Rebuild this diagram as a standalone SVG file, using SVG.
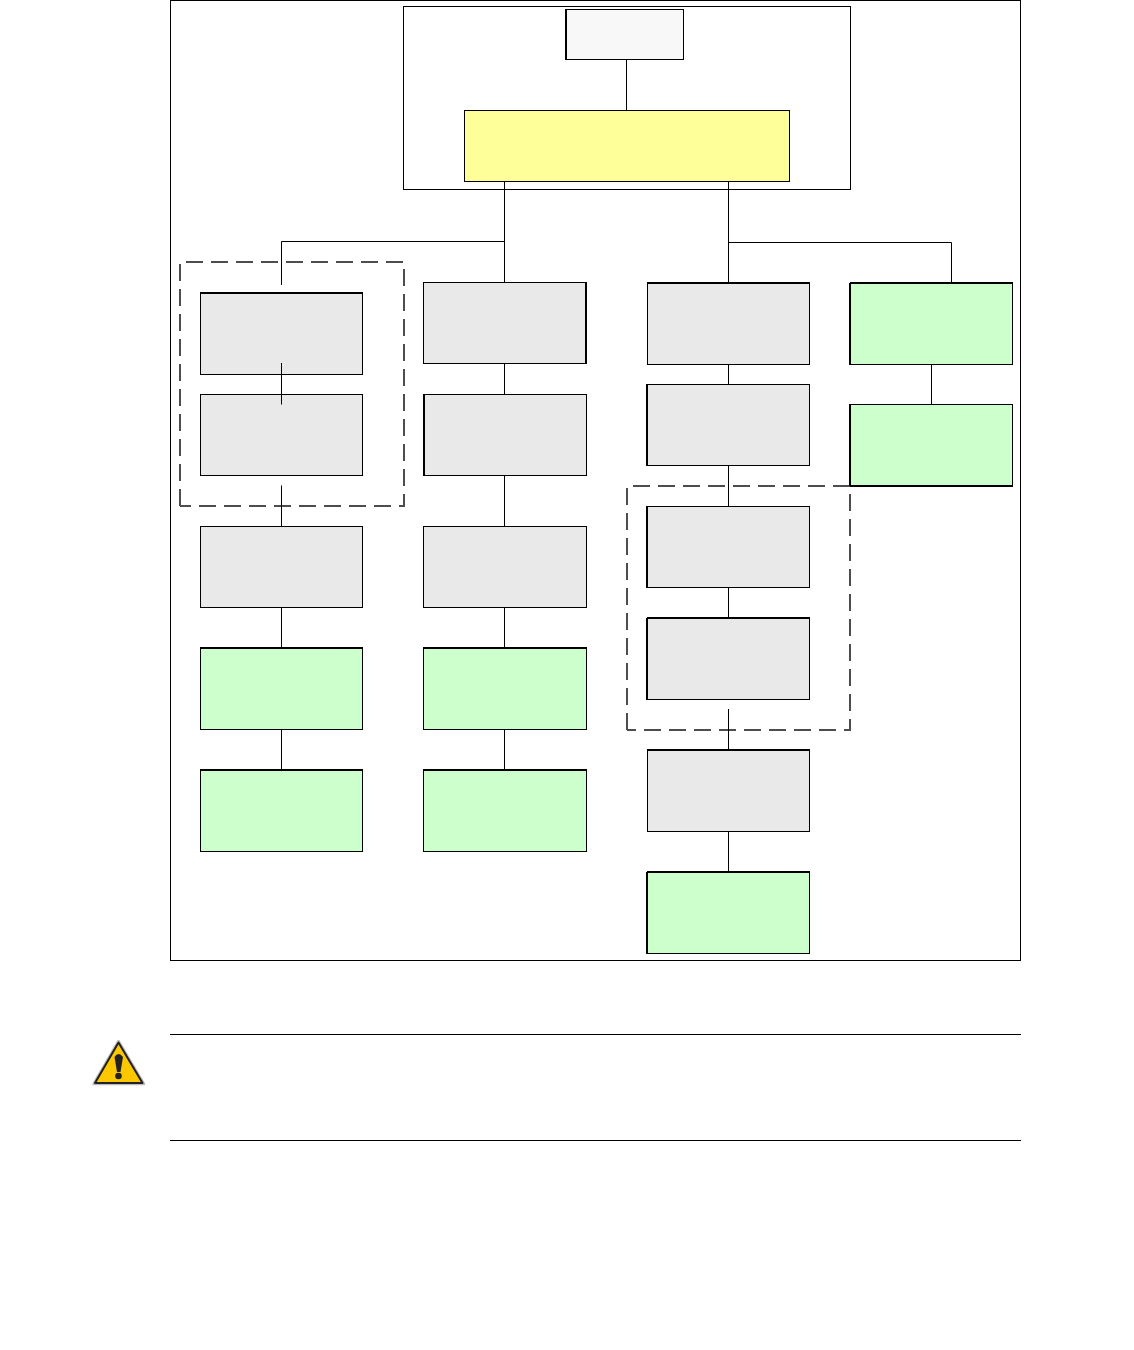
<svg xmlns="http://www.w3.org/2000/svg" width="1134" height="1350" viewBox="0 0 1134 1350">
<style>
.b{stroke:#000;stroke-width:1}
.g{fill:#e9e9e9}
.n{fill:#ccffcc}
.y{fill:#ffff99}
.w{fill:#f8f8f8}
.o{fill:#fff;stroke:#000;stroke-width:1}
.d{fill:none;stroke:#4d4d4d;stroke-width:2;stroke-dasharray:17 8}
.c{fill:none;stroke:#000;stroke-width:1}
</style>
<rect width="1134" height="1350" fill="#fff"/>
<g id="frame"><rect class="o" x="170.500" y="0.500" width="850" height="960"/></g>
<g id="container"><rect class="o" x="403.500" y="6.500" width="447" height="183"/></g>
<g id="group-left"><path class="d" d="M180 506V262H404V506H180"/></g>
<g id="group-right"><path class="d" d="M627 730V486H850V730H627"/></g>
<g id="root"><rect class="b w" x="566.500" y="9.500" width="117" height="50"/><path class="c" d="M565.500 9V60"/></g>
<g id="yellow"><rect class="b y" x="464.500" y="110.500" width="325" height="71"/></g>
<g id="a1"><rect class="b g" x="200.500" y="293.500" width="162" height="81"/><path class="c" d="M200 292.500h163"/></g>
<g id="a2"><rect class="b g" x="200.500" y="394.500" width="162" height="81"/></g>
<g id="a3"><rect class="b g" x="200.500" y="526.500" width="162" height="81"/></g>
<g id="a4"><rect class="b n" x="200.500" y="648.500" width="162" height="81"/><path class="c" d="M200 647.500h163"/></g>
<g id="a5"><rect class="b n" x="200.500" y="770.500" width="162" height="81"/><path class="c" d="M200 769.500h163"/></g>
<g id="b1"><rect class="b g" x="423.500" y="282.500" width="162" height="81"/><path class="c" d="M586.500 282v82"/></g>
<g id="b2"><rect class="b g" x="424.500" y="394.500" width="162" height="81"/><path class="c" d="M423.500 394v82"/></g>
<g id="b3"><rect class="b g" x="423.500" y="526.500" width="163" height="81"/></g>
<g id="b4"><rect class="b n" x="423.500" y="648.500" width="163" height="81"/><path class="c" d="M423 647.500h164"/></g>
<g id="b5"><rect class="b n" x="423.500" y="770.500" width="163" height="81"/><path class="c" d="M423 769.500h164"/></g>
<g id="c1"><rect class="b g" x="647.500" y="283.500" width="162" height="81"/><path class="c" d="M647 282.500h163"/></g>
<g id="c2"><rect class="b g" x="647.500" y="384.500" width="162" height="81"/><path class="c" d="M646.500 384v82"/></g>
<g id="c3"><rect class="b g" x="647.500" y="506.500" width="162" height="81"/><path class="c" d="M646.500 506v82"/></g>
<g id="c4"><rect class="b g" x="647.500" y="618.500" width="162" height="81"/><path class="c" d="M647 617.500h163M646.500 618v82"/></g>
<g id="c5"><rect class="b g" x="647.500" y="750.500" width="162" height="81"/><path class="c" d="M647 749.500h163"/></g>
<g id="c6"><rect class="b n" x="647.500" y="872.500" width="162" height="81"/><path class="c" d="M647 871.500h163M646.500 872v82"/></g>
<g id="d1"><rect class="b n" x="850.500" y="283.500" width="162" height="81"/><path class="c" d="M850 282.500h163M849.500 283v82"/></g>
<g id="d2"><rect class="b n" x="850.500" y="404.500" width="162" height="81"/><path class="c" d="M850 486.500h163M849.500 404v82"/></g>
<g id="connectors">
<path class="c" d="M626.500 59.500V110.500"/>
<path class="c" d="M504.500 181.500V282.500M504.500 241.500H281.500V285"/>
<path class="c" d="M728.500 181.500V283.500M728.500 242.500H951.500V283.500"/>
<path class="c" d="M281.500 363V404.500"/>
<path class="c" d="M281.500 485.500V526.500M281.500 607.500V648.500M281.500 729.500V770.500"/>
<path class="c" d="M504.500 363.500V394.500M504.500 475.500V526.500M504.500 607.500V648.500M504.500 729.500V770.500"/>
<path class="c" d="M728.500 364.500V384.500M728.500 465.500V506.500M728.500 587.500V618.500M728.500 709V750.500M728.500 831.500V872.500"/>
<path class="c" d="M931.500 364.500V404.500"/>
</g>
<g id="note">
<path class="c" d="M170 1034.500H1021M170 1140.500H1021"/>
<path d="M118.500 1041L93.500 1084H144Z" fill="#fdc800" stroke="#bbb" stroke-width="2.500" stroke-linejoin="round"/>
<path d="M118.500 1042.500L95 1083H142.500Z" fill="#fdc800" stroke="#222" stroke-width="2" stroke-linejoin="round"/>
<path d="M114.500 1057Q118.500 1051 123 1057L120.500 1072H117Z" fill="#222"/>
<circle cx="118.500" cy="1076" r="3.300" fill="#222"/>
</g>
</svg>
